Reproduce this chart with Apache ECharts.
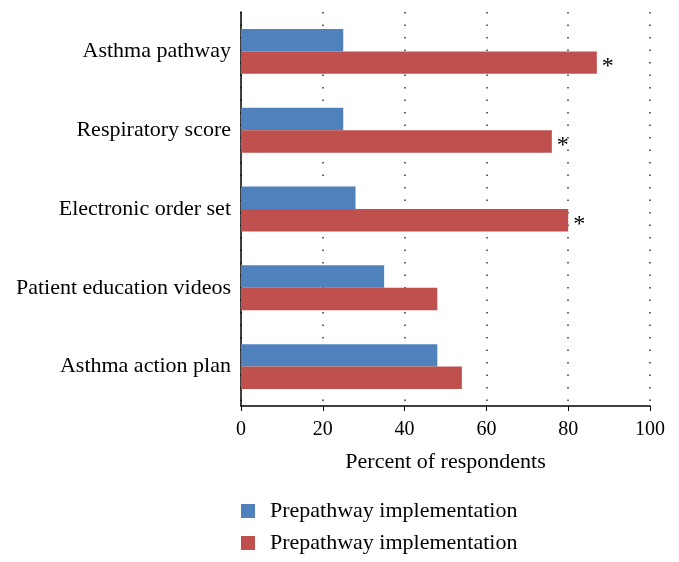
<!DOCTYPE html>
<html>
<head>
<meta charset="utf-8">
<script src="https://cdn.jsdelivr.net/npm/echarts@6/dist/echarts.min.js"></script>
<style>
  html, body { margin: 0; padding: 0; background: #fff; }
  #chart { width: 679px; height: 562px; }
</style>
</head>
<body>
<div id="chart"></div>
<script>
var categories = ['Asthma pathway', 'Respiratory score', 'Electronic order set', 'Patient education videos', 'Asthma action plan'];
var preValues = [25, 25, 28, 35, 48];
var postValues = [87, 76, 80, 48, 54];
var significance = ['*', '*', '*', '', ''];
var seriesNames = ['Prepathway implementation', 'Prepathway implementation'];
var xTicks = [0, 20, 40, 60, 80, 100];

var font = '"Liberation Serif", "DejaVu Serif", serif';
var chart = echarts.init(document.getElementById('chart'));

chart.setOption({
  animation: false,
  textStyle: { fontFamily: font, color: '#000' },
  grid: { left: 241, right: 29, top: 12, bottom: 156 },
  legend: {
    orient: 'vertical',
    left: 236,
    top: 495,
    height: 62,
    itemWidth: 14,
    itemHeight: 14,
    itemGap: 10,
    icon: 'rect',
    textStyle: { fontFamily: font, fontSize: 22, lineHeight: 20, color: '#000', padding: [0, 0, 0, 10] },
    data: [
      { name: 'pre', icon: 'rect' },
      { name: 'post', icon: 'rect' }
    ],
    formatter: function (n) { return n === 'pre' ? seriesNames[0] : seriesNames[1]; }
  },
  xAxis: {
    type: 'value',
    min: 0,
    max: 100,
    interval: 20,
    name: 'Percent of respondents',
    nameLocation: 'middle',
    nameGap: 45,
    nameTextStyle: { fontFamily: font, fontSize: 22, color: '#000' },
    axisLine: { show: true, lineStyle: { color: '#000', width: 1.5 } },
    axisTick: { show: true, length: 5, inside: false, lineStyle: { color: '#000' } },
    axisLabel: {
      fontFamily: font, fontSize: 20, color: '#000', margin: 14,
      formatter: function (v) { return xTicks.indexOf(v) >= 0 ? String(v) : ''; }
    },
    splitLine: { show: true, lineStyle: { color: '#333', type: [1.5, 11], width: 1.5 } }
  },
  yAxis: {
    type: 'category',
    data: categories,
    inverse: true,
    axisLine: { show: true, lineStyle: { color: '#000', width: 1.5 } },
    axisTick: { show: false },
    axisLabel: { fontFamily: font, fontSize: 22, color: '#000', margin: 10 },
    splitLine: { show: false }
  },
  series: [
    {
      name: 'pre',
      type: 'bar',
      data: preValues,
      barGap: '0%',
      barCategoryGap: '43%',
      itemStyle: { color: '#4F81BD' }
    },
    {
      name: 'post',
      type: 'bar',
      data: postValues,
      barGap: '0%',
      barCategoryGap: '43%',
      itemStyle: { color: '#C0504D' },
      label: {
        show: true,
        position: 'right',
        distance: 5,
        offset: [0, 4],
        fontFamily: font,
        fontSize: 24,
        color: '#000',
        formatter: function (p) { return significance[p.dataIndex]; }
      }
    }
  ]
});
</script>
</body>
</html>
